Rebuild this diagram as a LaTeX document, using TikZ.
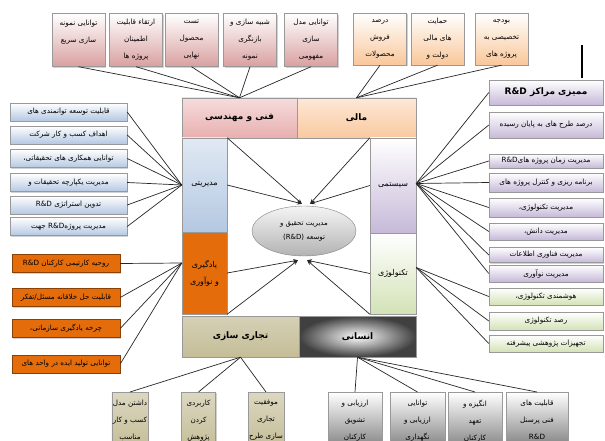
\documentclass[tikz,border=0pt]{standalone}
\usepackage{fontspec}
\newfontfamily\arabicfont[Script=Arabic]{DejaVu Sans}
\TeXXeTstate=1
\usetikzlibrary{shapes.geometric,shadows,arrows.meta}
\newcommand\fatxt[1]{{\arabicfont\beginR #1\endR}}
\newcommand\rdtxt{{\arabicfont R\&D}}
\newcommand\rdL{\beginL R\&D\endL{}}
\definecolor{pinkb}{HTML}{D9A0A0}
\definecolor{peachb}{HTML}{F9C79A}
\definecolor{blueb}{HTML}{B4C8E2}
\definecolor{purpb}{HTML}{C6B9D8}
\definecolor{greenb}{HTML}{D3E2B6}
\definecolor{orng}{HTML}{E46C0A}
\definecolor{tanb}{HTML}{C4BD97}
\definecolor{grayb}{HTML}{7F7F7F}
\definecolor{fmtop}{HTML}{F6DCDC}
\definecolor{fmbot}{HTML}{E8AFAF}
\definecolor{mtop}{HTML}{FDE8D6}
\definecolor{mbot}{HTML}{F9C9A0}
\begin{document}
\begin{tikzpicture}[x=1pt,y=-1pt,
  every node/.style={inner sep=1pt},
  ln/.style={draw=black!85, line width=0.7pt},
  arr/.style={ln, -{Stealth[length=5pt,width=4pt]}},
  bx/.style={draw=black!40, align=center, font=\fontsize{7.2}{17}\selectfont,
    drop shadow={shadow xshift=1pt,shadow yshift=-1.2pt,opacity=0.35}},
  topp/.style={bx, top color=white, bottom color=pinkb, minimum width=53pt, minimum height=53pt},
  topo/.style={bx, top color=white, bottom color=peachb, minimum width=53pt, minimum height=52pt},
  lblue/.style={bx, top color=white, bottom color=blueb, minimum width=117pt, minimum height=18pt},
  lor/.style={bx, fill=orng, draw=orng!60!black, minimum width=108pt, minimum height=18pt},
  rpur/.style={bx, top color=white, bottom color=purpb, minimum width=114pt},
  rgrn/.style={bx, top color=white, bottom color=greenb, minimum width=114pt},
  btan/.style={bx, anchor=north, top color=tanb!60!white, bottom color=tanb, inner ysep=8pt},
  bgray/.style={bx, anchor=north, top color=white, bottom color=grayb, inner ysep=8pt},
  cat/.style={draw=black!40, inner sep=0pt, align=center, font=\fontsize{9}{12}\selectfont\bfseries},
  cats/.style={draw=black!40, inner sep=0pt, align=center, font=\fontsize{8}{17}\selectfont},
]
\useasboundingbox (0,0) rectangle (605,441);
\clip (0,0) rectangle (605,441);
\fill[white] (0,0) rectangle (605,441);

% ---- top boxes
\node[topp] (t1) at (78.5,40) {\fatxt{توانایی نمونه}\\\fatxt{سازی سریع}\\~};
\node[topp] (t2) at (136,40) {\fatxt{ارتقاء قابلیت}\\\fatxt{اطمینان}\\\fatxt{پروژه ها}};
\node[topp] (t3) at (191.5,40) {\fatxt{تست}\\\fatxt{محصول}\\\fatxt{نهایی}};
\node[topp] (t4) at (250,40) {\fatxt{شبیه سازی و}\\\fatxt{بازنگری}\\\fatxt{نمونه}};
\node[topp] (t5) at (311,40) {\fatxt{توانایی مدل}\\\fatxt{سازی}\\\fatxt{مفهومی}};
\node[topo] (t6) at (380,39) {\fatxt{درصد}\\\fatxt{فروش}\\\fatxt{محصولات}};
\node[topo] (t7) at (437.5,39) {\fatxt{حمایت}\\\fatxt{های مالی}\\\fatxt{دولت و}};
\node[topo] (t8) at (501.5,39) {\fatxt{بودجه}\\\fatxt{تخصیصی به}\\\fatxt{پروژه های}};

% ---- central frame
\node[cat, minimum width=115pt, minimum height=40pt, top color=fmtop, bottom color=fmbot] (fm) at (239.5,118) {\fatxt{فنی و مهندسی}};
\node[cat, minimum width=119pt, minimum height=40pt, top color=mtop, bottom color=mbot] (mali) at (356.5,118) {\fatxt{مالی}};
\node[cats, minimum width=45pt, minimum height=94pt, top color=white!60!blueb, bottom color=blueb] (mod) at (204.5,185) {\fatxt{مدیریتی}};
\node[cats, minimum width=45pt, minimum height=82pt, fill=orng] (yad) at (204.5,273) {\fatxt{یادگیری}\\\fatxt{و نوآوری}};
\node[cats, minimum width=46pt, minimum height=95pt, top color=white, bottom color=purpb] (sys) at (393,185.5) {\fatxt{سیستمی}};
\node[cats, minimum width=46pt, minimum height=81pt, top color=white, bottom color=greenb] (tech) at (393,273.5) {\fatxt{تکنولوژی}};
\node[cat, minimum width=117pt, minimum height=41pt, top color=tanb!70!white, bottom color=tanb] (tej) at (240.5,336.5) {\fatxt{تجاری سازی}};
\node[cat, minimum width=117pt, minimum height=41pt, shading=radial, inner color=white, outer color=black!75] (ens) at (357.5,336.5) {\fatxt{انسانی}};
\node[ellipse, draw=black!50, top color=black!4, bottom color=black!30, minimum width=104pt, minimum height=50pt,
  align=center, font=\fontsize{7}{14}\selectfont, inner sep=0pt] (ell) at (304,231)
  {\fatxt{مدیریت تحقیق و}\\\fatxt{توسعه \beginL(R\&D)\endL}};

% ---- left blue boxes
\node[lblue] (l1) at (68.5,112) {\fatxt{قابلیت توسعه توانمندی های}};
\node[lblue] (l2) at (68.5,135) {\fatxt{اهداف کسب و کار شرکت}};
\node[lblue] (l3) at (68.5,158.5) {\fatxt{توانایی همکاری های تحقیقاتی،}};
\node[lblue] (l4) at (68.5,182.5) {\fatxt{مدیریت یکپارچه تحقیقات و}};
\node[lblue] (l5) at (68.5,205) {\fatxt{تدوین استراتژی \rdL}};
\node[lblue] (l6) at (68.5,226.5) {\fatxt{مدیریت پروژه\rdL{} جهت}};

% ---- left orange boxes
\node[lor] (o1) at (66,263.5) {\fatxt{روحیه کارتیمی کارکنان \rdL}};
\node[lor] (o2) at (66,297.5) {\fatxt{قابلیت حل خلاقانه مسئل/تفکر}};
\node[lor] (o3) at (66,328.5) {\fatxt{چرخه یادگیری سازمانی،}};
\node[lor] (o4) at (66,364) {\fatxt{توانایی تولید ایده در واحد های}};

% ---- right boxes
\node[rpur, minimum height=25pt, font=\fontsize{9}{12}\selectfont\bfseries] (r1) at (546,92.5) {\fatxt{ممیزی مراکز \rdL}};
\node[rpur, minimum height=26pt] (r2) at (546,125) {\fatxt{درصد طرح های به پایان رسیده}};
\node[rpur, minimum height=14pt] (r3) at (546,161) {\fatxt{مدیریت زمان پروژه های\rdL}};
\node[rpur, minimum height=19pt] (r4) at (546,182.5) {\fatxt{برنامه ریزی و کنترل پروژه های}};
\node[rpur, minimum height=19pt] (r5) at (546,207.5) {\fatxt{مدیریت تکنولوژی،}};
\node[rpur, minimum height=17pt] (r6) at (546,231.5) {\fatxt{مدیریت دانش،}};
\node[rpur, minimum height=15pt] (r7) at (546,255) {\fatxt{مدیریت فناوری اطلاعات}};
\node[rpur, minimum height=17pt] (r8) at (546,273.5) {\fatxt{مدیریت نوآوری}};
\node[rgrn, minimum height=17pt] (g1) at (546,296.5) {\fatxt{هوشمندی تکنولوژی،}};
\node[rgrn, minimum height=18pt] (g2) at (546,321) {\fatxt{رصد تکنولوژی}};
\node[rgrn, minimum height=17pt] (g3) at (546,343.5) {\fatxt{تجهیزات پژوهشی پیشرفته}};

% ---- bottom boxes
\node[btan, minimum width=34pt] (b1) at (130,392) {\fatxt{داشتن مدل}\\\fatxt{کسب و کار}\\\fatxt{مناسب}};
\node[btan, minimum width=34pt] (b2) at (198.5,392) {\fatxt{کاربردی}\\\fatxt{کردن}\\\fatxt{پژوهش}};
\node[btan, minimum width=34pt] (b3) at (266,392) {\fatxt{موفقیت}\\\fatxt{تجاری}\\\fatxt{سازی طرح}};
\node[bgray, minimum width=54pt] (c1) at (355,392) {\fatxt{ارزیابی و}\\\fatxt{تشویق}\\\fatxt{کارکنان}};
\node[bgray, minimum width=55pt] (c2) at (417.5,392) {\fatxt{توانایی}\\\fatxt{ارزیابی و}\\\fatxt{نگهداری}};
\node[bgray, minimum width=54pt] (c3) at (475,392) {\fatxt{انگیزه و}\\\fatxt{تعهد}\\\fatxt{کارکنان}};
\node[bgray, minimum width=62pt] (c4) at (537,392) {\fatxt{قابلیت های}\\\fatxt{فنی پرسنل}\\\rdtxt};

% ---- fan connectors
\foreach \n in {t1,t2,t3,t4,t5} \draw[ln] (\n.south) -- (fm.north);
\foreach \n in {t6,t7,t8} \draw[ln] (\n.south) -- (mali.north);
\foreach \n in {l1,l2,l3,l4,l5,l6} \draw[ln] (\n.east) -- (mod.west);
\coordinate (yf) at ([yshift=10pt]yad.west);
\foreach \n in {o1,o2,o3,o4} \draw[ln] (\n.east) -- (yf);
\coordinate (sf) at ([yshift=2pt]sys.east);
\foreach \n in {r1,r2,r3,r4,r5,r6,r7,r8} \draw[ln] (\n.west) -- (sf);
\coordinate (gf) at ([yshift=6pt]tech.east);
\foreach \n in {g1,g2,g3} \draw[ln] (\n.west) -- (gf);
\foreach \n in {b1,b2,b3} \draw[ln] (\n.north) -- (tej.south);
\foreach \n in {c1,c2,c3,c4} \draw[ln] (\n.north) -- (ens.south);

% ---- arrows into the ellipse
\coordinate (tl) at ([xshift=-2pt,yshift=2pt]ell.north);
\coordinate (tr) at ([xshift=6pt,yshift=2pt]ell.north);
\coordinate (bl) at ([xshift=-6pt,yshift=-4pt]ell.south);
\coordinate (br) at ([xshift=3pt,yshift=-4pt]ell.south);
\draw[arr] (mod.north east) -- (tl);
\draw[arr] (mod.east) -- (tl);
\draw[arr] (sys.north west) -- (tr);
\draw[arr] (sys.west) -- (tr);
\draw[arr] (yad.east) -- (bl);
\draw[arr] (yad.south east) -- (bl);
\draw[arr] (tech.west) -- (br);
\draw[arr] (tech.south west) -- (br);

% ---- stray mark
\coordinate (m1) at (582,45);
\coordinate (m2) at (582,78);
\draw[line width=1.6pt] (m1) -- (m2);
\end{tikzpicture}
\end{document}
